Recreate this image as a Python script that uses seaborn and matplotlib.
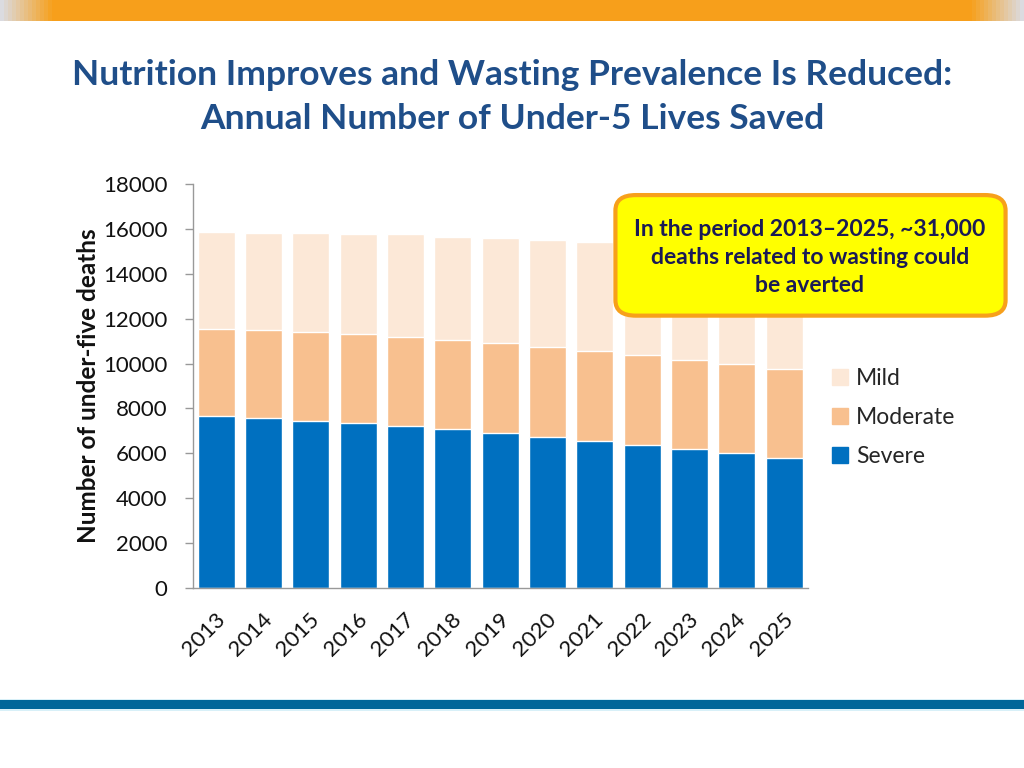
import numpy as np
import pandas as pd
import seaborn as sns
import matplotlib.pyplot as plt
from matplotlib.patches import FancyBboxPatch, Rectangle
from matplotlib.lines import Line2D

# values (deaths averted, stacked)
years = ["2013", "2014", "2015", "2016", "2017", "2018", "2019",
         "2020", "2021", "2022", "2023", "2024", "2025"]
severe = [7650, 7550, 7450, 7330, 7200, 7060, 6920, 6740, 6560, 6380, 6200, 5990, 5780]
moderate = [3910, 3960, 3950, 3980, 3990, 4000, 3990, 4000, 4000, 4000, 3970, 3990, 3970]
mild = [4290, 4320, 4420, 4480, 4570, 4610, 4700, 4780, 4860, 4920, 5000, 5040, 5110]

yticks = [0, 2000, 4000, 6000, 8000, 10000, 12000, 14000, 16000, 18000]

df = pd.DataFrame({"year": years, "Severe": severe, "Moderate": moderate, "Mild": mild})
df["sev_top"] = df["Severe"]
df["mod_top"] = df["Severe"] + df["Moderate"]
df["mild_top"] = df["mod_top"] + df["Mild"]

c_severe = "#0070C0"
c_moderate = "#F8C08F"
c_mild = "#FCE8D7"
title_col = "#1F4E89"

sns.set_theme(style="white")
plt.rcParams["font.family"] = ["Lato", "DejaVu Sans"]

fig = plt.figure(figsize=(10.24, 7.68), dpi=100)
ax = fig.add_axes([0.188, 0.235, 0.601, 0.525])

# stacked bars: draw cumulative tops, largest first
sns.barplot(data=df, x="year", y="mild_top", color=c_mild, width=0.78, ax=ax, saturation=1)
sns.barplot(data=df, x="year", y="mod_top", color=c_moderate, width=0.78, ax=ax, saturation=1)
sns.barplot(data=df, x="year", y="sev_top", color=c_severe, width=0.78, ax=ax, saturation=1)

ax.set_ylim(0, 18000)
ax.set_xlim(-0.5, len(years) - 0.5)
ax.set_yticks(yticks)
ax.set_yticklabels([str(t) for t in yticks], fontsize=16, color="#111111")
ax.set_xticks(np.arange(len(years)) + 0.12)
ax.set_xticklabels(years, rotation=45, fontsize=16, color="#111111",
                   ha="right", va="center", rotation_mode="anchor")
ax.tick_params(axis="x", which="major", length=0, pad=21)
ax.set_xticks(np.arange(-0.5, len(years), 1.0), minor=True)
ax.tick_params(axis="x", which="minor", length=6, color="#999999", width=1, direction="out")
ax.tick_params(axis="y", length=6, color="#999999", width=1, direction="out", left=True, pad=12)
ax.set_xlabel("")
ax.set_ylabel("Number of under-five deaths", fontsize=17.5, fontweight="bold",
              color="#111111", labelpad=2)
for s in ["top", "right"]:
    ax.spines[s].set_visible(False)
for s in ["left", "bottom"]:
    ax.spines[s].set_color("#999999")
    ax.spines[s].set_linewidth(1)

# legend
handles = [Line2D([0], [0], marker="s", color="none", markerfacecolor=c, markeredgecolor=c,
                  markersize=12) for c in [c_mild, c_moderate, c_severe]]
fig.legend(handles, ["Mild", "Moderate", "Severe"], loc="upper left",
           bbox_to_anchor=(0.787, 0.548), frameon=False, fontsize=16.5,
           handletextpad=0.1, labelspacing=0.8, handlelength=1.2)

# title
fig.text(0.5, 0.874, "Nutrition Improves and Wasting Prevalence Is Reduced:\nAnnual Number of Under-5 Lives Saved",
         ha="center", va="center", fontsize=25.5, fontweight="bold", color=title_col,
         linespacing=1.45)

# annotation box
box = FancyBboxPatch((0.601, 0.589), 0.381, 0.157, boxstyle="round,pad=0,rounding_size=0.02",
                     transform=fig.transFigure, facecolor="#FFFF00", edgecolor="#F7A01B",
                     linewidth=3, zorder=5)
fig.add_artist(box)
fig.text(0.791, 0.665, "In the period 2013\u20132025, ~31,000\ndeaths related to wasting could\nbe averted",
         ha="center", va="center", fontsize=16.5, fontweight="bold", color="#1A1A55",
         linespacing=1.42, zorder=6)

# decorative top orange band with faded ends
grad = np.ones((1, 256, 4))
orange = np.array([0.969, 0.627, 0.106])
gray = np.array([0.86, 0.86, 0.88])
xs = np.linspace(0, 1, 256)
fade = np.clip(np.minimum(xs / 0.05, (1 - xs) / 0.05), 0, 1)
grad[0, :, :3] = gray[None, :] * (1 - fade[:, None]) + orange[None, :] * fade[:, None]
band_ax = fig.add_axes([0, 0.973, 1, 0.027])
band_ax.imshow(grad, aspect="auto", extent=(0, 1, 0, 1))
band_ax.axis("off")

# bottom blue band
fig.add_artist(Rectangle((0, 0.077), 1, 0.011, transform=fig.transFigure,
                         facecolor="#006699", edgecolor="none"))
fig.add_artist(Rectangle((0, 0.088), 1, 0.002, transform=fig.transFigure,
                         facecolor="#D8F0F8", edgecolor="none"))
fig.add_artist(Rectangle((0, 0.074), 1, 0.003, transform=fig.transFigure,
                         facecolor="#D8F0F8", edgecolor="none"))

fig.savefig("out.png", dpi=100)
